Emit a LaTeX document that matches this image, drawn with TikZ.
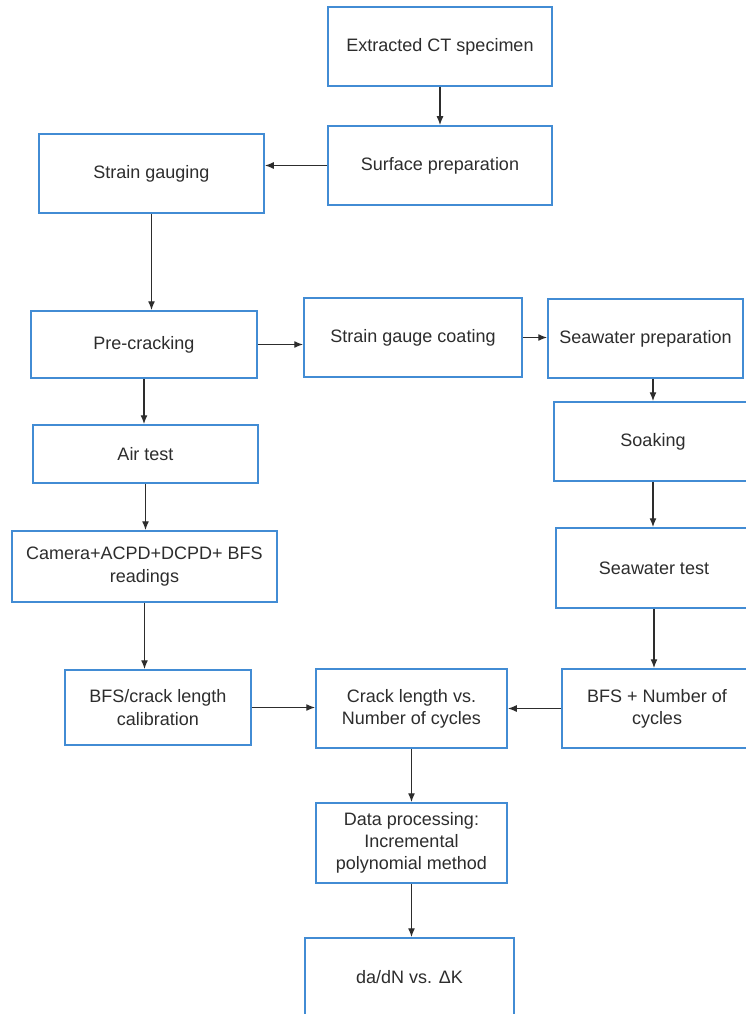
\documentclass[tikz,border=0pt]{standalone}
\usepackage{fontspec}
\setmainfont{Liberation Sans}
\usetikzlibrary{arrows.meta}

\definecolor{boxblue}{RGB}{66,140,212}
\definecolor{inkgray}{RGB}{45,45,45}

\tikzset{
    stage/.style={draw=boxblue, line width=1.5pt, fill=white, rectangle,
        align=center, text=inkgray, inner sep=2pt,
        font=\fontsize{18}{22.3}\selectfont},
    flow/.style={draw=inkgray, line width=1.4pt,
        -{Latex[length=9pt,width=7pt]}}
}

\begin{document}
\begin{tikzpicture}[x=1pt,y=-1pt]
        \clip (0,0) rectangle (746,1014);
        \fill[white] (0,0) rectangle (746,1014);
        % left branch
        \node[stage, minimum width=224pt, minimum height=79pt] (ext)   at (440,46.5)  {Extracted CT specimen};
        \node[stage, minimum width=224pt, minimum height=79pt] (surf)  at (440,165.5) {Surface preparation};
        \node[stage, minimum width=225pt, minimum height=79pt] (gauge) at (151.5,173.5) {Strain gauging};
        \node[stage, minimum width=226pt, minimum height=67pt] (pre)   at (144,344.5) {Pre-cracking};
        \node[stage, minimum width=225pt, minimum height=58pt] (air)   at (145.5,454) {Air test};
        \node[stage, minimum width=265pt, minimum height=71pt] (cam)   at (144.5,566.5) {Camera+ACPD+DCPD+ BFS\\readings};
        \node[stage, minimum width=186pt, minimum height=75pt] (calib) at (158,707.5) {BFS/crack length\\calibration};
        % seawater branch
        \node[stage, minimum width=218pt, minimum height=79pt] (coat)  at (413,337.5) {Strain gauge coating};
        \node[stage, minimum width=195pt, minimum height=79pt] (sprep) at (645.5,338.5) {Seawater preparation};
        \node[stage, minimum width=198pt, minimum height=79pt] (soak)  at (653,441.5) {Soaking};
        \node[stage, minimum width=196pt, minimum height=80pt] (swtest) at (654,568) {Seawater test};
        \node[stage, minimum width=190pt, minimum height=79pt] (bfsn)  at (657,708.5) {BFS + Number of\\cycles};
        % results
        \node[stage, minimum width=191pt, minimum height=79pt] (crack) at (411.5,708.5) {Crack length vs.\\Number of cycles};
        \node[stage, minimum width=191pt, minimum height=80pt] (proc)  at (411.5,843) {Data processing:\\Incremental\\polynomial method};
        \node[stage, minimum width=209pt, minimum height=79pt] (dadn)  at (409.5,977.5) {da/dN vs. ΔK};

        \draw[flow] (ext.south) -- (surf.north);
        \draw[flow] (surf.west) -- (surf.west -| gauge.east);
        \draw[flow] (gauge.south) -- (gauge.south |- pre.north);
        \draw[flow] (pre.east) -- (pre.east -| coat.west);
        \draw[flow] (coat.east) -- (coat.east -| sprep.west);
        \draw[flow] (soak.north |- sprep.south) -- (soak.north);
        \draw[flow] (soak.south) -- (soak.south |- swtest.north);
        \draw[flow] (swtest.south) -- (swtest.south |- bfsn.north);
        \draw[flow] (pre.south) -- (pre.south |- air.north);
        \draw[flow] (air.south) -- (air.south |- cam.north);
        \draw[flow] (cam.south) -- (cam.south |- calib.north);
        \draw[flow] (calib.east) -- (calib.east -| crack.west);
        \draw[flow] (bfsn.west) -- (bfsn.west -| crack.east);
        \draw[flow] (crack.south) -- (proc.north);
        \draw[flow] (proc.south) -- (proc.south |- dadn.north);
    \end{tikzpicture}
\end{document}
